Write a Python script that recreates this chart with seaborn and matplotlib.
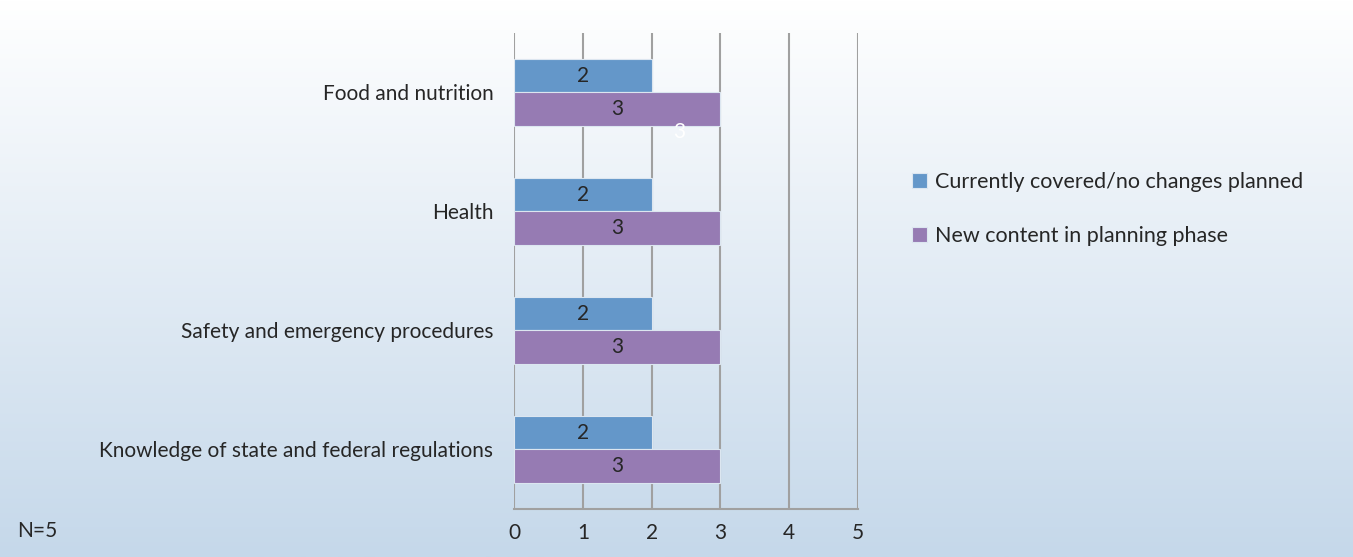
import numpy as np
import pandas as pd
import matplotlib
matplotlib.use("Agg")
import matplotlib.pyplot as plt
import seaborn as sns

# data
categories = ['Food and nutrition', 'Health', 'Safety and emergency procedures',
              'Knowledge of state and federal regulations']
series = ['Currently covered/no changes planned', 'New content in planning phase']
covered = [2, 2, 2, 2]
new_content = [3, 3, 3, 3]
colors = ['#6497c9', '#967bb3']

df = pd.DataFrame({
    'category': categories * 2,
    'series': [series[0]] * 4 + [series[1]] * 4,
    'value': covered + new_content,
})

sns.set_style('white')
plt.rcParams['font.family'] = ['Lato', 'DejaVu Sans']

fig = plt.figure(figsize=(13.53, 5.57), dpi=100)

# gradient background (white at top -> light blue at bottom)
bg = fig.add_axes([0, 0, 1, 1], zorder=-10)
grad = np.linspace(0, 1, 256)[:, None]
top = np.array([1.0, 1.0, 1.0])
bottom = np.array([197, 216, 234]) / 255
img = top[None, None, :] * (1 - grad[..., None]) + bottom[None, None, :] * grad[..., None]
bg.imshow(img, aspect='auto', extent=[0, 1, 0, 1])
bg.axis('off')

txt = '#262626'
ax = fig.add_axes([0.38, 0.0862, 0.254, 0.8546])
ax.patch.set_alpha(0)
sns.barplot(data=df, y='category', x='value', hue='series', palette=colors,
            width=0.57, orient='h', ax=ax, edgecolor='#dce6f0', linewidth=0.8,
            saturation=1, zorder=3)

for cont in ax.containers:
    ax.bar_label(cont, label_type='center', fontsize=15, color=txt)

# stray white label seen in the reference
ax.text(2.4, 0.33, '3', color='white', fontsize=15, ha='center', va='center', zorder=4)

ax.set_xlim(0, 5)
ax.set_ylim(3.5, -0.5)
ax.set_xticks(range(6))
ax.xaxis.grid(True, color='#a0a0a0', linewidth=1.5, zorder=0)
ax.set_axisbelow(True)
for s in ['top', 'right', 'left']:
    ax.spines[s].set_visible(False)
ax.spines['bottom'].set_color('#a0a0a0')
ax.spines['bottom'].set_linewidth(1.5)
ax.tick_params(axis='both', length=0, labelsize=15, colors=txt)
ax.tick_params(axis='x', pad=10)
ax.tick_params(axis='y', pad=15)
ax.set_xlabel('')
ax.set_ylabel('')

ax.legend(title=None, frameon=False, loc='upper left', bbox_to_anchor=(1.1, 0.748),
          fontsize=15.5, handlelength=0.7, handleheight=0.7, labelspacing=1.55,
          handletextpad=0.4)

fig.text(0.013, 0.046, 'N=5', fontsize=15, color=txt, va='center')

plt.savefig('out.png', dpi=100)
